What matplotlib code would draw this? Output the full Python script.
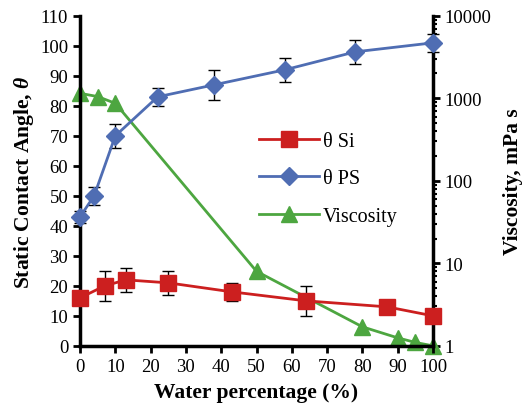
import matplotlib
matplotlib.use("Agg")
import matplotlib.pyplot as plt
from matplotlib.lines import Line2D
from matplotlib.ticker import FixedLocator, FixedFormatter, LogLocator, NullFormatter

plt.rcParams['font.family'] = ['Liberation Serif', 'DejaVu Serif']
plt.rcParams['mathtext.fontset'] = 'custom'
plt.rcParams['mathtext.it'] = 'Liberation Serif:italic:bold'
plt.rcParams['mathtext.rm'] = 'Liberation Serif:bold'

# contact angle on Si
si_x = [0, 7, 13, 25, 43, 64, 87, 100]
si_y = [16, 20, 22, 21, 18, 15, 13, 10]
si_err = [2, 5, 4, 4, 3, 5, 2, 2]

# contact angle on PS
ps_x = [0, 4, 10, 22, 38, 58, 78, 100]
ps_y = [43, 50, 70, 83, 87, 92, 98, 101]
ps_err = [2, 3, 4, 3, 5, 4, 4, 3]

# viscosity (right axis, log)
vis_x = [0, 5, 10, 50, 80, 90, 95, 100]
vis_y = [1150, 1050, 870, 8, 1.7, 1.25, 1.1, 1.0]

red = '#CC1F1F'
blue = '#4F6DB3'
green = '#4DA640'

fig = plt.figure(figsize=(5.23, 4.1), dpi=100)
ax = fig.add_axes([0.153, 0.154, 0.675, 0.805])
ax2 = ax.twinx()

ax.errorbar(si_x, si_y, yerr=si_err, color=red, marker='s', markersize=11,
            linewidth=2, ecolor='black', elinewidth=1, capsize=4, capthick=1,
            zorder=3, clip_on=False)
ax.errorbar(ps_x, ps_y, yerr=ps_err, color=blue, marker='D', markersize=9,
            linewidth=2, ecolor='black', elinewidth=1, capsize=4, capthick=1,
            zorder=3, clip_on=False)
ax2.plot(vis_x, vis_y, color=green, marker='^', markersize=11,
         linewidth=2, clip_on=False)

ax.set_xlim(0, 100)
ax.set_ylim(0, 110)
ax.set_xticks(range(0, 101, 10))
ax.set_yticks(range(0, 111, 10))
ax2.set_yscale('log')
ax2.set_ylim(1, 10000)
ax2.yaxis.set_major_locator(FixedLocator([1, 10, 100, 1000, 10000]))
ax2.yaxis.set_major_formatter(FixedFormatter(['1', '10', '100', '1000', '10000']))
ax2.yaxis.set_minor_locator(LogLocator(base=10, subs=range(2, 10)))
ax2.yaxis.set_minor_formatter(NullFormatter())

for a in (ax, ax2):
    for s in a.spines.values():
        s.set_linewidth(2.5)
    a.spines['top'].set_visible(False)
ax.spines['right'].set_visible(False)
ax2.spines['left'].set_visible(False)
ax2.spines['bottom'].set_visible(False)

ax.tick_params(axis='both', direction='out', length=5, width=2, labelsize=13.5)
ax2.tick_params(axis='y', which='major', direction='out', length=5, width=2, labelsize=13.5)
ax2.tick_params(axis='y', which='minor', direction='out', length=3, width=1.5)

ax.set_xlabel('Water percentage (%)', fontsize=15.5, fontweight='bold', labelpad=5)
ax.set_ylabel(r'Static Contact Angle, $\theta$', fontsize=15.5, fontweight='bold', labelpad=3)
ax2.set_ylabel('Viscosity, mPa s', fontsize=15.5, fontweight='bold', labelpad=8)

ax.set_zorder(ax2.get_zorder() + 1)
ax.patch.set_visible(False)

handles = [
    Line2D([], [], color=red, marker='s', markersize=11, linewidth=2),
    Line2D([], [], color=blue, marker='D', markersize=9, linewidth=2),
    Line2D([], [], color=green, marker='^', markersize=11, linewidth=2),
]
ax.legend(handles, ['θ Si', 'θ PS', 'Viscosity'], loc='center left',
          bbox_to_anchor=(0.455, 0.506), frameon=False, fontsize=14.5,
          handlelength=3, labelspacing=0.9, handletextpad=0.2)

fig.savefig('out.png', dpi=100)
